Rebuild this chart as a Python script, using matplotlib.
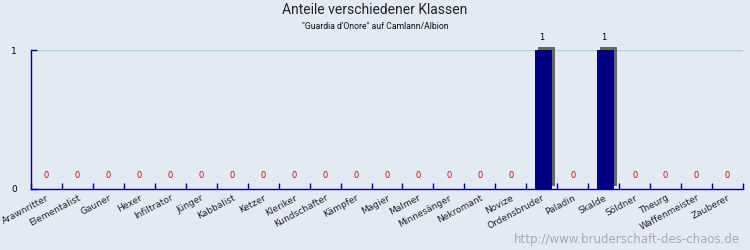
import matplotlib
matplotlib.use("Agg")
import matplotlib.pyplot as plt
import matplotlib.patheffects as pe
import numpy as np

klassen = ["Arawnritter", "Elementalist", "Gauner", "Hexer", "Infiltrator", "Jünger",
           "Kabbalist", "Ketzer", "Kleriker", "Kundschafter", "Kämpfer", "Magier",
           "Malmer", "Minnesänger", "Nekromant", "Novize", "Ordensbruder", "Paladin",
           "Skalde", "Söldner", "Theurg", "Waffenmeister", "Zauberer"]
anzahl = [0, 0, 0, 0, 0, 0, 0, 0, 0, 0, 0, 0, 0, 0, 0, 0, 1, 0, 1, 0, 0, 0, 0]

bg = "#e4eaf2"
axis_blue = "#00008b"

fig = plt.figure(figsize=(7.5, 2.5), dpi=100, facecolor=bg)
ax = fig.add_axes([31 / 750, 61 / 250, 712 / 750, 139 / 250], facecolor=bg)

n = len(klassen)
x = np.arange(n)
shadow = [pe.SimplePatchShadow(offset=(2.2, 2.2), shadow_rgbFace="#666666", alpha=1.0),
          pe.Normal()]
bars = ax.bar(x + 0.05, anzahl, width=0.55, color="#000080", zorder=3, path_effects=shadow)
for b in bars:
    b.set_clip_on(False)

ax.axhline(1, color="#a8d4e0", lw=1, zorder=1)

for xi, v in zip(x, anzahl):
    if v == 0:
        ax.text(xi, 0.065, str(v), ha="center", va="bottom", color="#b01010",
                fontsize=6, zorder=4)
    else:
        ax.text(xi, v + 0.06, str(v), ha="center", va="bottom", color="black",
                fontsize=6, zorder=4)

ax.set_xlim(-0.5, n - 0.5)
ax.set_ylim(0, 1)

for s in ["top", "right"]:
    ax.spines[s].set_visible(False)
for s in ["left", "bottom"]:
    ax.spines[s].set_color(axis_blue)
    ax.spines[s].set_linewidth(1)

# category boundaries as small inward ticks
ax.set_xticks(np.arange(n + 1) - 0.5)
ax.set_xticklabels([])
ax.tick_params(axis="x", direction="in", length=4, color=axis_blue, width=1)
ax.set_xticks(x, minor=True)
ax.set_xticklabels(klassen, minor=True, rotation=28, ha="right",
                   rotation_mode="anchor", fontsize=6.5, color="#222222")
ax.tick_params(axis="x", which="minor", length=0, pad=3)

ax.set_yticks([0, 1])
ax.set_yticklabels(["0", "1"], fontsize=6.5)
ax.tick_params(axis="y", direction="in", length=4, color=axis_blue, width=1, pad=10)

fig.text(0.5, 0.958, "Anteile verschiedener Klassen", ha="center", va="center",
         fontsize=10, color="#222222", family="Roboto")
fig.text(0.5, 0.895, "\"Guardia d'Onore\" auf Camlann/Albion", ha="center",
         va="center", fontsize=6.2, color="#111111", family="Roboto")
fig.text(0.987, 0.04, "http://www.bruderschaft-des-chaos.de", ha="right",
         va="center", fontsize=8.5, color="#aaaaaa")

fig.savefig("out.png", dpi=100, facecolor=bg)
